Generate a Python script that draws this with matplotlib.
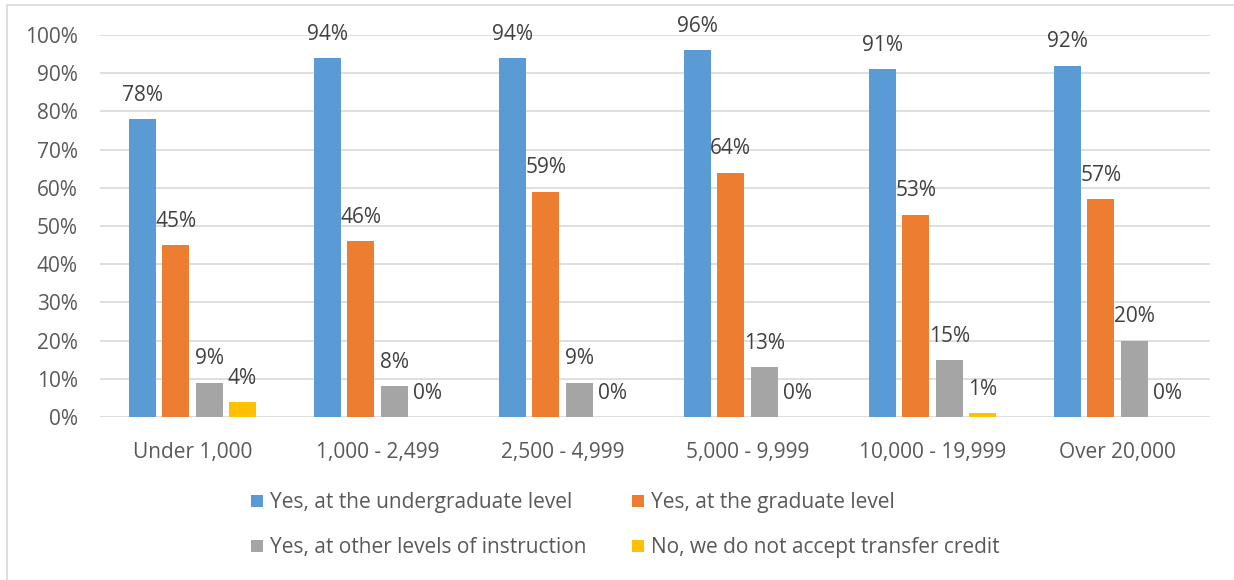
import matplotlib.pyplot as plt
import numpy as np
from matplotlib.patches import Rectangle

plt.rcParams["font.family"] = ["Open Sans", "DejaVu Sans"]

categories = ["Under 1,000", "1,000 - 2,499", "2,500 - 4,999",
              "5,000 - 9,999", "10,000 - 19,999", "Over 20,000"]
series_names = ["Yes, at the undergraduate level", "Yes, at the graduate level",
                "Yes, at other levels of instruction", "No, we do not accept transfer credit"]
undergrad = [78, 94, 94, 96, 91, 92]
graduate = [45, 46, 59, 64, 53, 57]
other = [9, 8, 9, 13, 15, 20]
no_transfer = [4, 0, 0, 0, 1, 0]
colors = ["#5b9bd5", "#ed7d31", "#a5a5a5", "#ffc000"]

text_col = "#595959"
grid_col = "#d9d9d9"
fs = 15

fig = plt.figure(figsize=(12.34, 5.8), dpi=100)
ax = fig.add_axes([100 / 1234, 1 - 417 / 580, 1110 / 1234, 382 / 580])

x = np.arange(len(categories))
width = 0.146
step = 0.18
handles = []
for i, (vals, name, c) in enumerate(zip([undergrad, graduate, other, no_transfer],
                                        series_names, colors)):
    pos = x + (i - 1.5) * step
    bars = ax.bar(pos, vals, width, color=c, label=name, zorder=2)
    handles.append(bars)
    for b, v in zip(bars, vals):
        ax.annotate(f"{v}%", (b.get_x() + b.get_width() / 2, v),
                    xytext=(0, 9.5), textcoords="offset points",
                    ha="center", va="bottom", fontsize=fs, color="#404040")

ax.set_xlim(-0.5, len(categories) - 0.5)
ax.set_ylim(0, 100)
ax.set_yticks(range(0, 101, 10))
ax.set_yticklabels([f"{t}%" for t in range(0, 101, 10)])
ax.set_xticks(x)
ax.set_xticklabels(categories)
ax.tick_params(length=0, labelsize=fs, colors=text_col)
ax.tick_params(axis="y", pad=16)
ax.tick_params(axis="x", pad=18)
ax.yaxis.grid(True, color=grid_col, lw=1.2, zorder=0)
ax.set_axisbelow(True)
for s in ax.spines.values():
    s.set_visible(False)

# legend fills row by row: ncol=2 lays out column-major, so interleave
order = [0, 2, 1, 3]
fig.legend([handles[k] for k in order], [series_names[k] for k in order],
           loc="upper left", bbox_to_anchor=(243 / 1234, 1 - 484 / 580),
           ncol=2, frameon=False, fontsize=fs, labelcolor=text_col,
           handlelength=0.55, handleheight=0.55, handletextpad=0.35,
           columnspacing=2.2, labelspacing=1.15, borderaxespad=0)

# chart frame and the clipped heading above it
fig.patches.append(Rectangle((7 / 1234, -0.01), 1.0, 1 - 5 / 580 + 0.01,
                             transform=fig.transFigure, fill=False,
                             edgecolor=grid_col, lw=1.2))
fig.text(10 / 1234, 1 + 7 / 580, "Figure 8: Accept transfer credit (check all that apply), by size",
         fontsize=16, fontweight="bold", color="black", va="baseline")

fig.savefig("out.png", dpi=100)
